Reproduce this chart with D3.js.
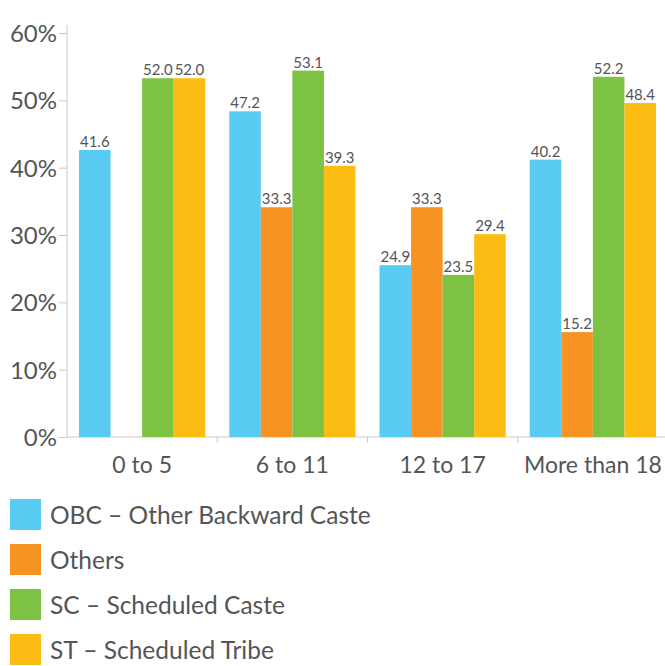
<!DOCTYPE html>
<html>
<head>
<meta charset="utf-8">
<script src="https://cdn.jsdelivr.net/npm/d3@7"></script>
<style>
  body { margin: 0; background: #fff; }
  text { font-family: Lato, "Open Sans", sans-serif; fill: #545557; }
</style>
</head>
<body>
<div id="chart"></div>
<script>
// age groups on the x axis
var categories = ["0 to 5", "6 to 11", "12 to 17", "More than 18"];
var seriesNames = ["OBC \u2013 Other Backward Caste", "Others", "SC \u2013 Scheduled Caste", "ST \u2013 Scheduled Tribe"];
var seriesColors = ["#59cbf3", "#f69322", "#7dc242", "#fbbd14"];

// one value per age group, null = no bar
var obc = [41.6, 47.2, 24.9, 40.2];
var others = [null, 33.3, 33.3, 15.2];
var sc = [52.0, 53.1, 23.5, 52.2];
var st = [52.0, 39.3, 29.4, 48.4];

var yTicks = [0, 10, 20, 30, 40, 50, 60];

var seriesValues = [obc, others, sc, st];

var width = 665, height = 666;
var left = 67, right = 668, bottom = 437;

var svg = d3.select("#chart")
	.append("svg")
	.attr("width", width)
	.attr("height", height);

// scales
var x0 = d3.scaleBand().domain(categories).range([left, right]);
var x1 = d3.scaleBand().domain(seriesNames).range([12, x0.bandwidth() - 12]);

// the source chart draws its bars a bit taller than its axis labels
var yAxisScale = d3.scaleLinear().domain([0, 60]).range([bottom, 33]);
var yBar = d3.scaleLinear().domain([0, 60]).range([bottom, 23]);

// y axis
var yAxis = svg.append("g")
	.attr("transform", "translate(" + left + ",0)")
	.call(d3.axisLeft(yAxisScale).tickValues(yTicks).tickSize(8).tickPadding(2)
		.tickFormat(function(d) { return d + "%"; }));
yAxis.select(".domain").remove();
yAxis.selectAll(".tick line").attr("stroke", "#c8c8c8");
yAxis.selectAll(".tick text").style("font-size", "24px").attr("dy", "0.36em");

svg.append("line")
	.attr("x1", left).attr("x2", left)
	.attr("y1", 25).attr("y2", bottom)
	.attr("stroke", "#c8c8c8");

// x axis line and boundary ticks
svg.append("line")
	.attr("x1", left).attr("x2", width)
	.attr("y1", bottom).attr("y2", bottom)
	.attr("stroke", "#c8c8c8");

svg.selectAll(".xtick")
	.data(categories.slice(1))
	.enter()
	.append("line")
	.attr("x1", function(d) { return x0(d); })
	.attr("x2", function(d) { return x0(d); })
	.attr("y1", bottom).attr("y2", bottom + 6)
	.attr("stroke", "#c8c8c8");

svg.selectAll(".xlabel")
	.data(categories)
	.enter()
	.append("text")
	.attr("x", function(d) { return x0(d) + x0.bandwidth() / 2; })
	.attr("y", 473)
	.attr("text-anchor", "middle")
	.style("font-size", "23px")
	.text(function(d) { return d; });

// bars
var points = [];
categories.forEach(function(c, i) {
	seriesNames.forEach(function(s, j) {
		if (seriesValues[j][i] != null) {
			points.push({ cat: c, series: s, color: seriesColors[j], value: seriesValues[j][i] });
		}
	});
});

svg.selectAll("rect.bar")
	.data(points)
	.enter()
	.append("rect")
	.attr("class", "bar")
	.attr("x", function(d) { return x0(d.cat) + x1(d.series); })
	.attr("width", x1.bandwidth())
	.attr("y", function(d) { return yBar(d.value); })
	.attr("height", function(d) { return bottom - yBar(d.value); })
	.attr("fill", function(d) { return d.color; });

svg.selectAll("text.val")
	.data(points)
	.enter()
	.append("text")
	.attr("class", "val")
	.attr("x", function(d) { return x0(d.cat) + x1(d.series) + x1.bandwidth() / 2; })
	.attr("y", function(d) { return yBar(d.value) - 3; })
	.attr("text-anchor", "middle")
	.style("font-size", "15px")
	.text(function(d) { return d.value.toFixed(1); });

// legend
var legend = svg.selectAll(".legend")
	.data(seriesNames)
	.enter()
	.append("g")
	.attr("transform", function(d, i) { return "translate(10," + (499 + i * 45) + ")"; });

legend.append("rect")
	.attr("width", 31).attr("height", 31)
	.attr("fill", function(d, i) { return seriesColors[i]; });

legend.append("text")
	.attr("x", 40)
	.attr("y", 25)
	.style("font-size", "24.5px")
	.text(function(d) { return d; });
</script>
</body>
</html>
